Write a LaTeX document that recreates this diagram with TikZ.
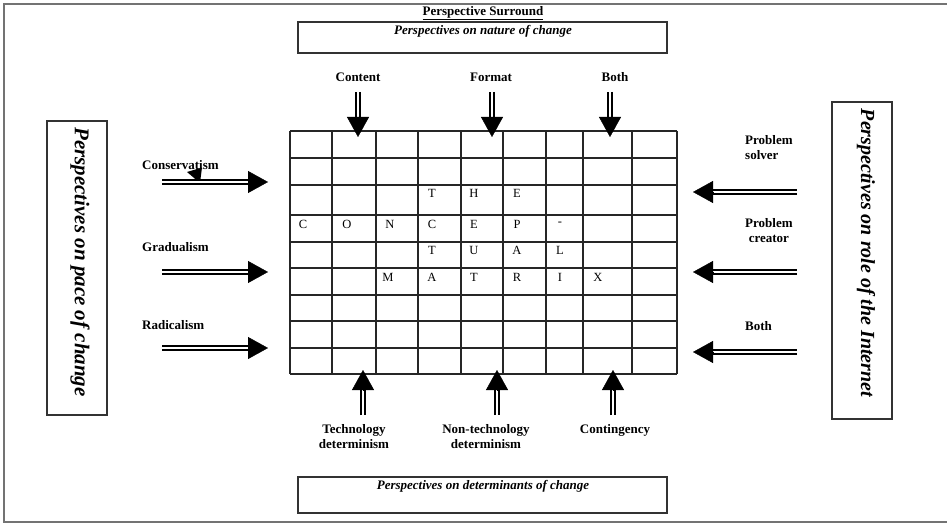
\documentclass[tikz,border=0pt]{standalone}
\usepackage{fontspec}
\setmainfont{Liberation Serif}
\usetikzlibrary{arrows.meta,calc}
\tikzset{
  shaft/.style={draw=black, double=white, line width=2pt, double distance=1.4pt, shorten >=8pt},
  head/.style={-{Triangle[length=20pt,width=22pt]}, line width=0.4pt},
  lbl/.style={font=\fontsize{13}{15}\selectfont\bfseries, inner sep=0pt, align=center},
  boxtxt/.style={font=\fontsize{13}{15}\selectfont\bfseries\itshape, inner sep=0pt},
  vtxt/.style={font=\fontsize{20}{24}\selectfont\bfseries\itshape, inner sep=0pt, rotate=-90},
  pbox/.style={draw=black!80, line width=1.4pt},
  gridline/.style={draw=black!85, line width=1.2pt},
  letter/.style={font=\fontsize{12.5}{14}\selectfont, inner sep=0pt}
}
\newcommand{\myarrow}[2]{\draw[shaft] (#1) -- (#2); \draw[head] ($(#2)!20pt!(#1)$) -- (#2);}
\begin{document}
\begin{tikzpicture}[x=1pt,y=-1pt]
\useasboundingbox (0,0) rectangle (947,524);
% outer frame
\draw[black!55, line width=2pt] (948,4.5) -- (4,4.5) -- (4,522) -- (948,522);
% title
\node[lbl] (title) at (483,13) {\underline{Perspective Surround}};
% top box
\draw[pbox] (298,22) rectangle (667,53);
\node[boxtxt] (toptxt) at (483,31) {Perspectives on nature of change};
% bottom box
\draw[pbox] (298,477) rectangle (667,513);
\node[boxtxt] (bottxt) at (483,486) {Perspectives on determinants of change};
% left box
\draw[pbox] (47,121) rectangle (107,415);
\node[vtxt, font=\fontsize{21}{24}\selectfont\bfseries\itshape] (lefttxt) at (80,262) {Perspectives on pace of change};
% right box
\draw[pbox] (832,102) rectangle (892,419);
\node[vtxt] (righttxt) at (866,253) {Perspectives on role of the Internet};
% grid
\foreach \x in {290,332,376,418,461,503,546,583,632,677} {\draw[gridline] (\x,131) -- (\x,374);}
\foreach \y in {131,158,185,215,242,268,295,321,348,374} {\draw[gridline] (290,\y) -- (677,\y);}
% letters
\node[letter] (l1) at (432,193) {T};
\node[letter] (l2) at (474,193) {H};
\node[letter] (l3) at (517,193) {E};
\node[letter] (l4) at (303,224) {C};
\node[letter] (l5) at (347,224) {O};
\node[letter] (l6) at (390,224) {N};
\node[letter] (l7) at (432,224) {C};
\node[letter] (l8) at (474,224) {E};
\node[letter] (l9) at (517,224) {P};
\node[letter] (l10) at (560,224) {-};
\node[letter] (l11) at (432,250) {T};
\node[letter] (l12) at (474,250) {U};
\node[letter] (l13) at (517,250) {A};
\node[letter] (l14) at (560,250) {L};
\node[letter] (l15) at (388,277) {M};
\node[letter] (l16) at (432,277) {A};
\node[letter] (l17) at (474,277) {T};
\node[letter] (l18) at (517,277) {R};
\node[letter] (l19) at (560,277) {I};
\node[letter] (l20) at (598,277) {X};
% top labels and arrows
\node[lbl] (content) at (358,77) {Content};
\node[lbl] (format) at (491,77) {Format};
\node[lbl] (bothtop) at (615,77) {Both};
\coordinate (ts1) at (358,92); \coordinate (tt1) at (358,137);
\coordinate (ts2) at (492,92); \coordinate (tt2) at (492,137);
\coordinate (ts3) at (610,92); \coordinate (tt3) at (610,137);
\myarrow{ts1}{tt1}
\myarrow{ts2}{tt2}
\myarrow{ts3}{tt3}
% bottom labels and arrows
\node[lbl] (tech) at (354,437) {Technology\\determinism};
\node[lbl] (nontech) at (486,437) {Non-technology\\determinism};
\node[lbl] (conting) at (615,430) {Contingency};
\coordinate (bs1) at (363,415); \coordinate (bt1) at (363,370);
\coordinate (bs2) at (497,415); \coordinate (bt2) at (497,370);
\coordinate (bs3) at (613,415); \coordinate (bt3) at (613,370);
\myarrow{bs1}{bt1}
\myarrow{bs2}{bt2}
\myarrow{bs3}{bt3}
% left labels and arrows
\node[lbl, anchor=west] (conserv) at (142,165) {Conservatism};
\node[lbl, anchor=west] (grad) at (142,247) {Gradualism};
\node[lbl, anchor=west] (radic) at (142,325) {Radicalism};
\fill (187,172) -- (202,167.5) -- (200,183) -- cycle;
\coordinate (ls1) at (162,182); \coordinate (lt1) at (268,182);
\coordinate (ls2) at (162,272); \coordinate (lt2) at (268,272);
\coordinate (ls3) at (162,348); \coordinate (lt3) at (268,348);
\myarrow{ls1}{lt1}
\myarrow{ls2}{lt2}
\myarrow{ls3}{lt3}
% right labels and arrows
\node[lbl, anchor=west, align=left] (psolver) at (745,148) {Problem\\solver};
\node[lbl, anchor=west] (pcreator) at (745,231) {Problem\\creator};
\node[lbl, anchor=west] (bothright) at (745,326) {Both};
\coordinate (rs1) at (797,192); \coordinate (rt1) at (693,192);
\coordinate (rs2) at (797,272); \coordinate (rt2) at (693,272);
\coordinate (rs3) at (797,352); \coordinate (rt3) at (693,352);
\myarrow{rs1}{rt1}
\myarrow{rs2}{rt2}
\myarrow{rs3}{rt3}
\end{tikzpicture}
\end{document}
